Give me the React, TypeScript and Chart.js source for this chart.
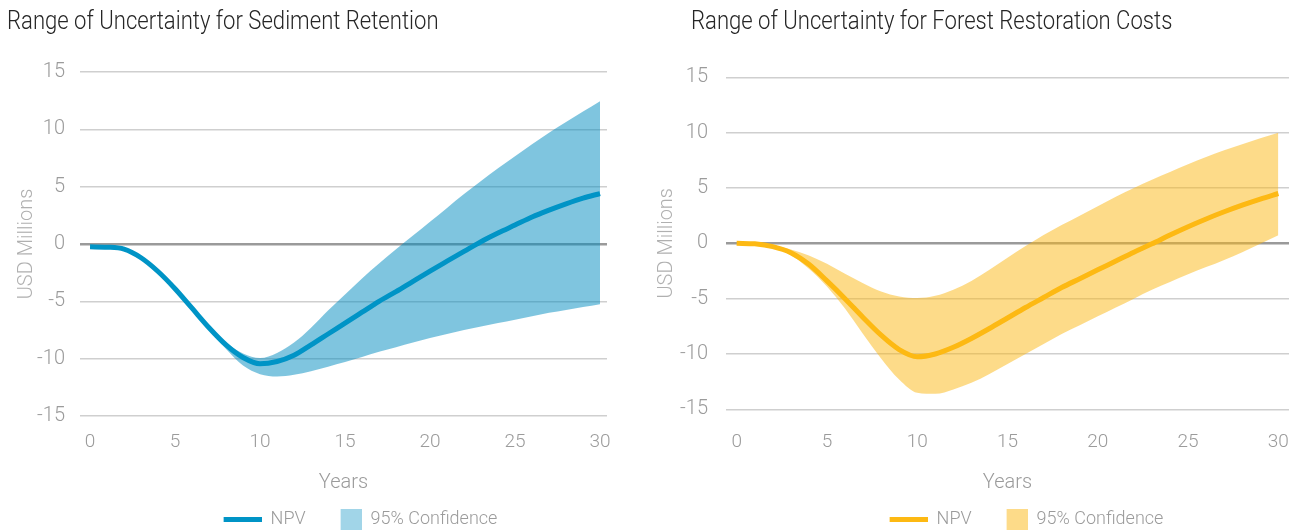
import React, { useEffect, useRef } from "react";
import { Chart, registerables } from "chart.js";

Chart.register(...registerables);

// ---------- DATA ----------
const years = [0, 1, 2, 3, 4, 5, 6, 7, 8, 9, 10, 11, 12, 13, 14, 15, 16, 17, 18, 19, 20, 21, 22, 23, 24, 25, 26, 27, 28, 29, 30];

const sedimentNpv = [-0.25, -0.28, -0.45, -1.2, -2.4, -3.9, -5.6, -7.3, -8.8, -9.9, -10.45, -10.25, -9.7, -8.8, -7.85, -6.9, -5.95, -5.0, -4.15, -3.25, -2.36, -1.5, -0.65, 0.2, 0.95, 1.65, 2.35, 2.95, 3.5, 4.0, 4.4];
const sedimentUpper = [-0.25, -0.28, -0.45, -1.2, -2.4, -3.9, -5.6, -7.25, -8.6, -9.55, -9.95, -9.5, -8.6, -7.3, -5.8, -4.4, -3.0, -1.7, -0.45, 0.75, 1.95, 3.15, 4.35, 5.5, 6.6, 7.65, 8.7, 9.7, 10.65, 11.55, 12.45];
const sedimentLower = [-0.25, -0.28, -0.45, -1.2, -2.4, -3.9, -5.65, -7.45, -9.15, -10.6, -11.35, -11.55, -11.4, -11.1, -10.7, -10.3, -9.85, -9.4, -9.0, -8.6, -8.2, -7.85, -7.5, -7.2, -6.9, -6.6, -6.3, -6.0, -5.75, -5.5, -5.25];

const forestNpv = [0, -0.05, -0.3, -0.85, -1.9, -3.4, -5.0, -6.7, -8.3, -9.6, -10.25, -10.0, -9.4, -8.6, -7.7, -6.75, -5.8, -4.9, -4.0, -3.2, -2.4, -1.6, -0.8, -0.05, 0.75, 1.5, 2.2, 2.85, 3.45, 4.0, 4.5];
const forestUpper = [0, -0.03, -0.2, -0.55, -1.1, -1.85, -2.75, -3.6, -4.35, -4.8, -4.95, -4.75, -4.2, -3.4, -2.4, -1.3, -0.25, 0.75, 1.65, 2.5, 3.35, 4.2, 5.0, 5.75, 6.45, 7.15, 7.8, 8.4, 8.95, 9.5, 10.0];
const forestLower = [0, -0.05, -0.35, -1.05, -2.3, -3.9, -5.9, -8.2, -10.4, -12.3, -13.5, -13.6, -13.2, -12.6, -11.8, -10.9, -10.0, -9.1, -8.2, -7.4, -6.6, -5.8, -5.0, -4.2, -3.5, -2.8, -2.15, -1.5, -0.8, -0.05, 0.72];

const xTickValues = [0, 5, 10, 15, 20, 25, 30];
const yTickValues = [-15, -10, -5, 0, 5, 10, 15];

const titles = ["Range of Uncertainty for Sediment Retention", "Range of Uncertainty for Forest Restoration Costs"];
const legendLabels = ["NPV", "95% Confidence"];
const xAxisTitle = "Years";
const yAxisTitle = "USD Millions";

// ---------- STYLE ----------
const FONT = "Roboto, 'DejaVu Sans Condensed', sans-serif";
const TICK_COLOR = "#9b9b9b";

type Panel = {
  npv: number[];
  upper: number[];
  lower: number[];
  line: string;
  fill: string;
  swatchFill: string;
  padTop: number;
  padRight: number;
  yAxisWidth: number;
  yTitlePad: number;
  yTickPad: number;
  xAxisHeight: number;
  xTickLH: number;
  xMin: number;
  xMax: number;
  legendShift: number;
};

const panels: Panel[] = [
  {
    npv: sedimentNpv, upper: sedimentUpper, lower: sedimentLower,
    line: "#0094c6", fill: "rgba(0,140,192,0.5)", swatchFill: "rgba(0,140,192,0.37)",
    padTop: 72, padRight: 43, yAxisWidth: 80, yTitlePad: 15, yTickPad: 15,
    xAxisHeight: 90, xTickLH: 2.79, xMin: -0.59, xMax: 30.41, legendShift: 10,
  },
  {
    npv: forestNpv, upper: forestUpper, lower: forestLower,
    line: "#fdb913", fill: "rgba(252,183,20,0.5)", swatchFill: "rgba(252,183,20,0.5)",
    padTop: 77.3, padRight: 10, yAxisWidth: 76, yTitlePad: 5.4, yTickPad: 18,
    xAxisHeight: 96.7, xTickLH: 3.44, xMin: -0.59, xMax: 30.59, legendShift: 12,
  },
];

function makeSwatch(kind: "line" | "rect", color: string): HTMLCanvasElement {
  const c = document.createElement("canvas");
  const ctx = c.getContext("2d")!;
  if (kind === "line") {
    c.width = 52; c.height = 5;
    ctx.fillStyle = color;
    ctx.fillRect(14, 0, 38, 5);
  } else {
    c.width = 52; c.height = 21;
    ctx.fillStyle = color;
    ctx.fillRect(31, 0, 21, 21);
  }
  return c;
}

function pts(vals: number[]) {
  return years.map((t, i) => ({ x: t, y: vals[i] }));
}

function ChartPanel({ p }: { p: Panel }) {
  const ref = useRef<HTMLCanvasElement | null>(null);
  useEffect(() => {
    if (!ref.current) return;
    const lineSw = makeSwatch("line", p.line);
    const rectSw = makeSwatch("rect", p.swatchFill);
    const legendShift = {
      id: "legendShift",
      afterLayout(chart: any) {
        if (chart.legend) {
          chart.legend.left += p.legendShift;
          chart.legend.right += p.legendShift;
        }
      },
    };
    const chart = new Chart(ref.current, {
      type: "line",
      data: {
        datasets: [
          {
            label: legendLabels[0],
            data: pts(p.npv),
            borderColor: p.line,
            borderWidth: 5,
            pointRadius: 0,
            fill: false,
            cubicInterpolationMode: "monotone",
          },
          {
            label: legendLabels[1],
            data: pts(p.upper),
            borderWidth: 0,
            borderColor: "rgba(0,0,0,0)",
            backgroundColor: p.fill,
            pointRadius: 0,
            fill: "+1",
            cubicInterpolationMode: "monotone",
          },
          {
            label: "lower",
            data: pts(p.lower),
            borderWidth: 0,
            borderColor: "rgba(0,0,0,0)",
            pointRadius: 0,
            fill: false,
            cubicInterpolationMode: "monotone",
          },
        ],
      } as any,
      options: {
        animation: false,
        responsive: true,
        maintainAspectRatio: false,
        layout: { padding: { left: 0, right: p.padRight, top: p.padTop, bottom: -7 } },
        plugins: {
          tooltip: { enabled: false },
          title: { display: false },
          legend: {
            display: true,
            position: "bottom",
            fullSize: false,
            labels: {
              usePointStyle: true,
              pointStyleWidth: 52,
              boxHeight: 18,
              padding: 4,
              color: TICK_COLOR,
              font: { family: FONT, size: 18, weight: "300" },
              generateLabels: () => [
                { text: legendLabels[0], pointStyle: lineSw, fillStyle: p.line, strokeStyle: "rgba(0,0,0,0)", lineWidth: 0, hidden: false, datasetIndex: 0, fontColor: TICK_COLOR } as any,
                { text: legendLabels[1], pointStyle: rectSw, fillStyle: p.swatchFill, strokeStyle: "rgba(0,0,0,0)", lineWidth: 0, hidden: false, datasetIndex: 1, fontColor: TICK_COLOR } as any,
              ],
            },
          },
        },
        scales: {
          x: {
            type: "linear",
            min: p.xMin,
            max: p.xMax,
            afterBuildTicks: (s: any) => { s.ticks = xTickValues.map((v) => ({ value: v })); },
            afterFit: (s: any) => { s.height = p.xAxisHeight; },
            grid: { display: false, drawTicks: false },
            border: { display: false },
            ticks: { color: TICK_COLOR, padding: 0, font: { family: FONT, size: 19, weight: "300", lineHeight: p.xTickLH }, maxRotation: 0 },
            title: { display: true, text: xAxisTitle, color: TICK_COLOR, font: { family: FONT, size: 20, weight: "300" }, padding: { top: 0, bottom: 11.5 } },
          },
          y: {
            type: "linear",
            min: -15,
            max: 15,
            afterBuildTicks: (s: any) => { s.ticks = yTickValues.map((v) => ({ value: v })); },
            afterFit: (s: any) => { s.width = p.yAxisWidth; },
            grid: {
              drawTicks: false,
              color: (c: any) => (c.tick && c.tick.value === 0 ? "#9a9a9a" : "#cfcfcf"),
              lineWidth: (c: any) => (c.tick && c.tick.value === 0 ? 2.5 : 1.5),
            },
            border: { display: false },
            ticks: { color: TICK_COLOR, padding: p.yTickPad, font: { family: FONT, size: 20, weight: "300" } },
            title: { display: true, text: yAxisTitle, color: "#b0b0b0", font: { family: FONT, size: 20, weight: "300" }, padding: { top: p.yTitlePad, bottom: 0 } },
          },
        },
      } as any,
      plugins: [legendShift],
    });
    return () => chart.destroy();
  }, [p]);
  return <canvas ref={ref} />;
}

const titleStyle: React.CSSProperties = {
  position: "absolute",
  top: 7,
  fontFamily: FONT,
  fontWeight: 300,
  fontSize: 26,
  lineHeight: 1,
  color: "#262626",
  whiteSpace: "nowrap",
  transform: "scaleX(0.85)",
  transformOrigin: "0 0",
};

export default function App() {
  return (
    <div style={{ position: "fixed", left: 0, top: 0, width: 1299, height: 531, background: "#fff", overflow: "hidden" }}>
      <div style={{ position: "absolute", left: 0, top: 0, width: 650, height: 531 }}>
        <ChartPanel p={panels[0]} />
      </div>
      <div style={{ position: "absolute", left: 650, top: 0, width: 649, height: 531 }}>
        <ChartPanel p={panels[1]} />
      </div>
      <div style={{ ...titleStyle, left: 7 }}>{titles[0]}</div>
      <div style={{ ...titleStyle, left: 691 }}>{titles[1]}</div>
    </div>
  );
}
